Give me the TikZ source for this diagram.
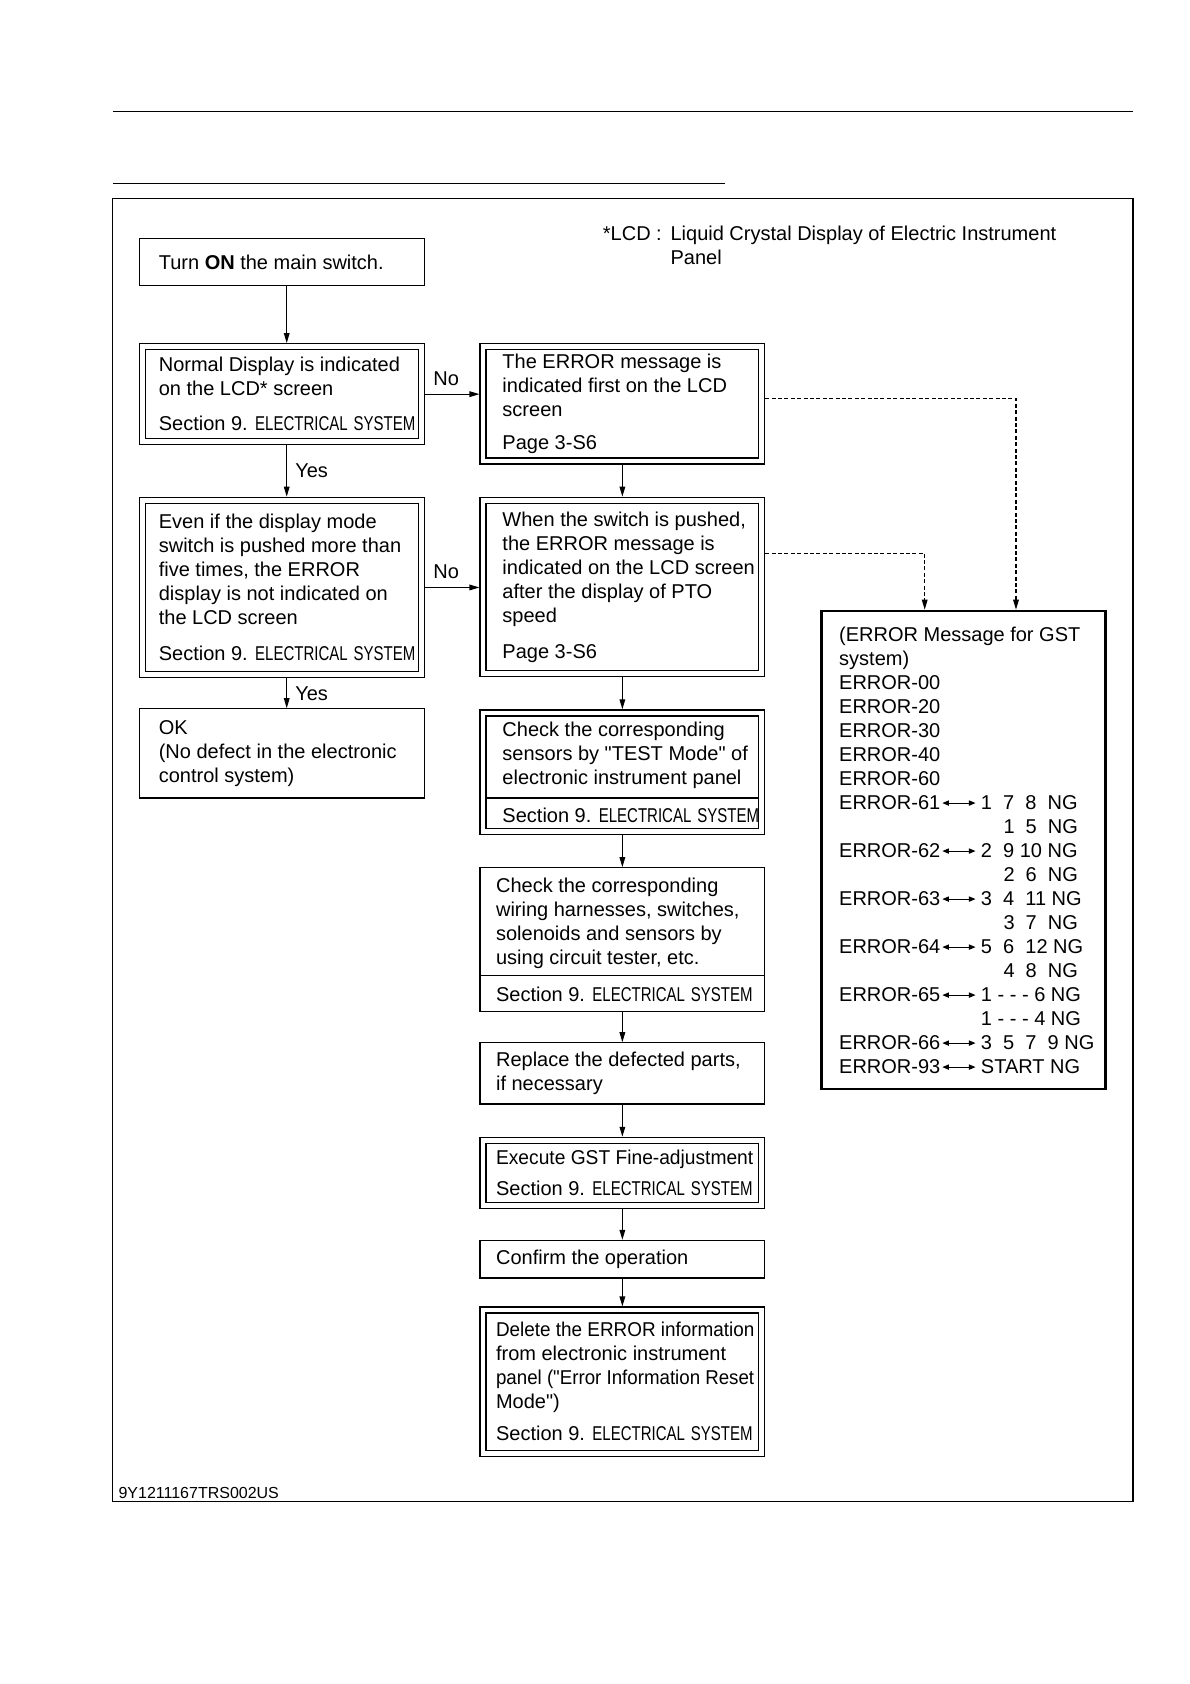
\documentclass[tikz,border=0pt]{standalone}
\usepackage{fontspec}
\usepackage{graphicx}
\setmainfont{Liberation Sans}
\newfontfamily\narrowfont[FakeStretch=0.75]{Liberation Sans}
\newfontfamily\plainfont{Liberation Sans}
\usetikzlibrary{arrows.meta,positioning,calc,fit}
\newcommand{\secnine}{Section 9. {\narrowfont ELECTRICAL\hspace{3pt}SYSTEM}}
\newcommand{\sq}{{\plainfont"}}
\newcommand{\squeeze}[2]{\scalebox{#1}[1]{#2}}

\begin{document}
\begin{tikzpicture}[x=0.537pt,y=-0.537pt,>={Triangle[length=5pt,width=2.8pt]},
 font=\fontsize{10pt}{12pt}\selectfont,
 cell/.style={draw,line width=0.6pt,inner sep=0pt},
 dcell/.style={cell,double,double distance=2.4pt,outer sep=1.8pt},
 panelbox/.style={draw,line width=1.4pt,inner sep=0pt},
 words/.style={anchor=west,align=left,inner sep=0pt},
 row/.style={anchor=base west,inner sep=0pt},
 lab/.style={inner sep=4pt},
 flow/.style={->,line width=0.6pt},
 link/.style={->,line width=0.6pt,dash pattern=on 2pt off 1.2pt},
 both/.style={<->,line width=0.5pt,>={Triangle[length=3.3pt,width=2.6pt]},shorten <=0.8pt,shorten >=2.5pt}]
\useasboundingbox (0,0) rectangle (1108,1568);
\draw[line width=0.6pt] (105,104) -- (1055,104);
\draw[line width=0.6pt] (105,171) -- (675,171);
\draw[line width=0.6pt] (105,185) rectangle (1055,1398);

\node[row] (lcdkey) at (561,223.7) {*LCD :};
\node[row] (lcdtxt) at (624,223.7) {Liquid Crystal Display of Electric Instrument};
\node[row] (lcdtxt2) at (624,246.7) {Panel};

\node[cell,fit={(130,222)(395,266)}] (turnon) {};
\node[dcell,fit={(132.8,322.8)(392.2,411.2)}] (normal) {};
\node[dcell,fit={(449.8,322.8)(709.2,429.2)}] (err1) {};
\node[dcell,fit={(132.8,465.8)(392.2,628.2)}] (even) {};
\node[dcell,fit={(449.8,465.8)(709.2,627.2)}] (when) {};
\node[cell,fit={(130,660)(395,743)}] (ok) {};
\node[dcell,fit={(449.8,663.8)(709.2,774.2)}] (sensors) {};
\node[cell,fit={(447,808)(712,942)}] (wiring) {};
\node[cell,fit={(447,971)(712,1028)}] (replace) {};
\node[dcell,fit={(449.8,1061.8)(709.2,1122.2)}] (execute) {};
\node[cell,fit={(447,1155)(712,1190)}] (confirm) {};
\node[dcell,fit={(449.8,1219.8)(709.2,1353.2)}] (delete) {};
\node[panelbox,fit={(765,569)(1029,1014)}] (gst) {};
\draw[line width=0.6pt] (452,743) -- (707,743);
\draw[line width=0.6pt] (447,908) -- (712,908);

\node[words,right=9.7pt of turnon.west] (turnont) {Turn \textbf{ON} the main switch.};
\node[words,right=9.7pt of normal.west] (normalt) {Normal Display is indicated\\on the LCD* screen\\[5.7pt]\secnine};
\node[words,right=11.3pt of err1.west] (err1t) {The ERROR message is\\indicated first on the LCD\\screen\\[4.1pt]Page 3-S6};
\node[words,right=9.7pt of even.west] (event) {Even if the display mode\\switch is pushed more than\\five times, the ERROR\\display is not indicated on\\the LCD screen\\[5.7pt]\secnine};
\node[words,right=11.3pt of when.west] (whent) {When the switch is pushed,\\the ERROR message is\\indicated on the LCD screen\\after the display of PTO\\speed\\[6pt]Page 3-S6};
\node[words,right=9.7pt of ok.west] (okt) {OK\\(No defect in the electronic\\control system)};
\node[words,right=11.3pt of sensors.west] (sensorst) {Check the corresponding\\sensors by \sq TEST Mode\sq{} of\\electronic instrument panel\\[6.8pt]\secnine};
\node[words,right=8.1pt of wiring.west] (wiringt) {Check the corresponding\\wiring harnesses, switches,\\solenoids and sensors by\\using circuit tester, etc.\\[6.8pt]\secnine};
\node[words,right=8.1pt of replace.west] (replacet) {Replace the defected parts,\\if necessary};
\node[words,right=8.1pt of execute.west] (executet) {\squeeze{0.96}{Execute GST Fine-adjustment}\\[3.6pt]\secnine};
\node[words,right=8.1pt of confirm.west] (confirmt) {Confirm the operation};
\node[words,right=8.1pt of delete.west] (deletet) {\squeeze{0.945}{Delete the ERROR information}\\from electronic instrument\\\squeeze{0.935}{panel (\sq Error Information Reset}\\Mode\sq)\\[4.1pt]\secnine};

\node[row] (ghead) at (781,597.7) {(ERROR Message for GST};
\node[row] (ghead2) at (781,620.05) {system)};
\foreach \c [count=\i from 2] in {00,20,30,40,60}
 \node[row] (e\c) at (781,{597.7+22.35*\i}) {ERROR-\c};
\foreach \i/\c/\v in {7/61/{1\ \ 7\ \ 8\ \ NG},9/62/{2\ \ 9 10 NG},11/63/{3\ \ 4\ \ 11 NG},13/64/{5\ \ 6\ \ 12 NG},15/65/{1 - - - 6 NG},17/66/{3\ \ 5\ \ 7\ \ 9 NG},18/93/{START NG}}{
 \node[row] (l\c) at (781,{597.7+22.35*\i}) {ERROR-\c};
 \node[row] (r\c) at (913,{597.7+22.35*\i}) {\v};
 \draw[both] (l\c.east) -- (r\c.west);
}
\foreach \i/\x/\v in {8/934/{1\ \ 5\ \ NG},10/934/{2\ \ 6\ \ NG},12/934/{3\ \ 7\ \ NG},14/934/{4\ \ 8\ \ NG},16/913/{1 - - - 4 NG}}
 \node[row] (c\i) at (\x,{597.7+22.35*\i}) {\v};

\draw[flow] ([xshift=2.4pt]turnon.south) -- ([xshift=2.4pt]normal.north);
\draw[flow] (normal.east) -- (normal.east -| err1.west) node[lab,above right,pos=0] {No};
\draw[flow] ([xshift=2.4pt]normal.south) -- ([xshift=2.4pt]even.north) node[lab,right,midway] {Yes};
\draw[flow] (even.east) -- (even.east -| when.west) node[lab,above right,pos=0] {No};
\draw[flow] ([xshift=2.4pt]even.south) -- ([xshift=2.4pt]ok.north) node[lab,right,midway] {Yes};
\draw[flow] (err1) -- (when);
\draw[flow] (when) -- (sensors);
\draw[flow] (sensors) -- (wiring);
\draw[flow] (wiring) -- (replace);
\draw[flow] (replace) -- (execute);
\draw[flow] (execute) -- (confirm);
\draw[flow] (confirm) -- (delete);

\coordinate (d1) at (946,371);
\coordinate (d2) at (861,515);
\draw[link] (err1.east |- d1) -- (d1) -- (gst.north -| d1);
\draw[link] (when.east |- d2) -- (d2) -- (gst.north -| d2);

\node[row,font=\fontsize{8pt}{9.6pt}\selectfont] (code) at (110,1395) {9Y1211167TRS002US};
\end{tikzpicture}
\end{document}
